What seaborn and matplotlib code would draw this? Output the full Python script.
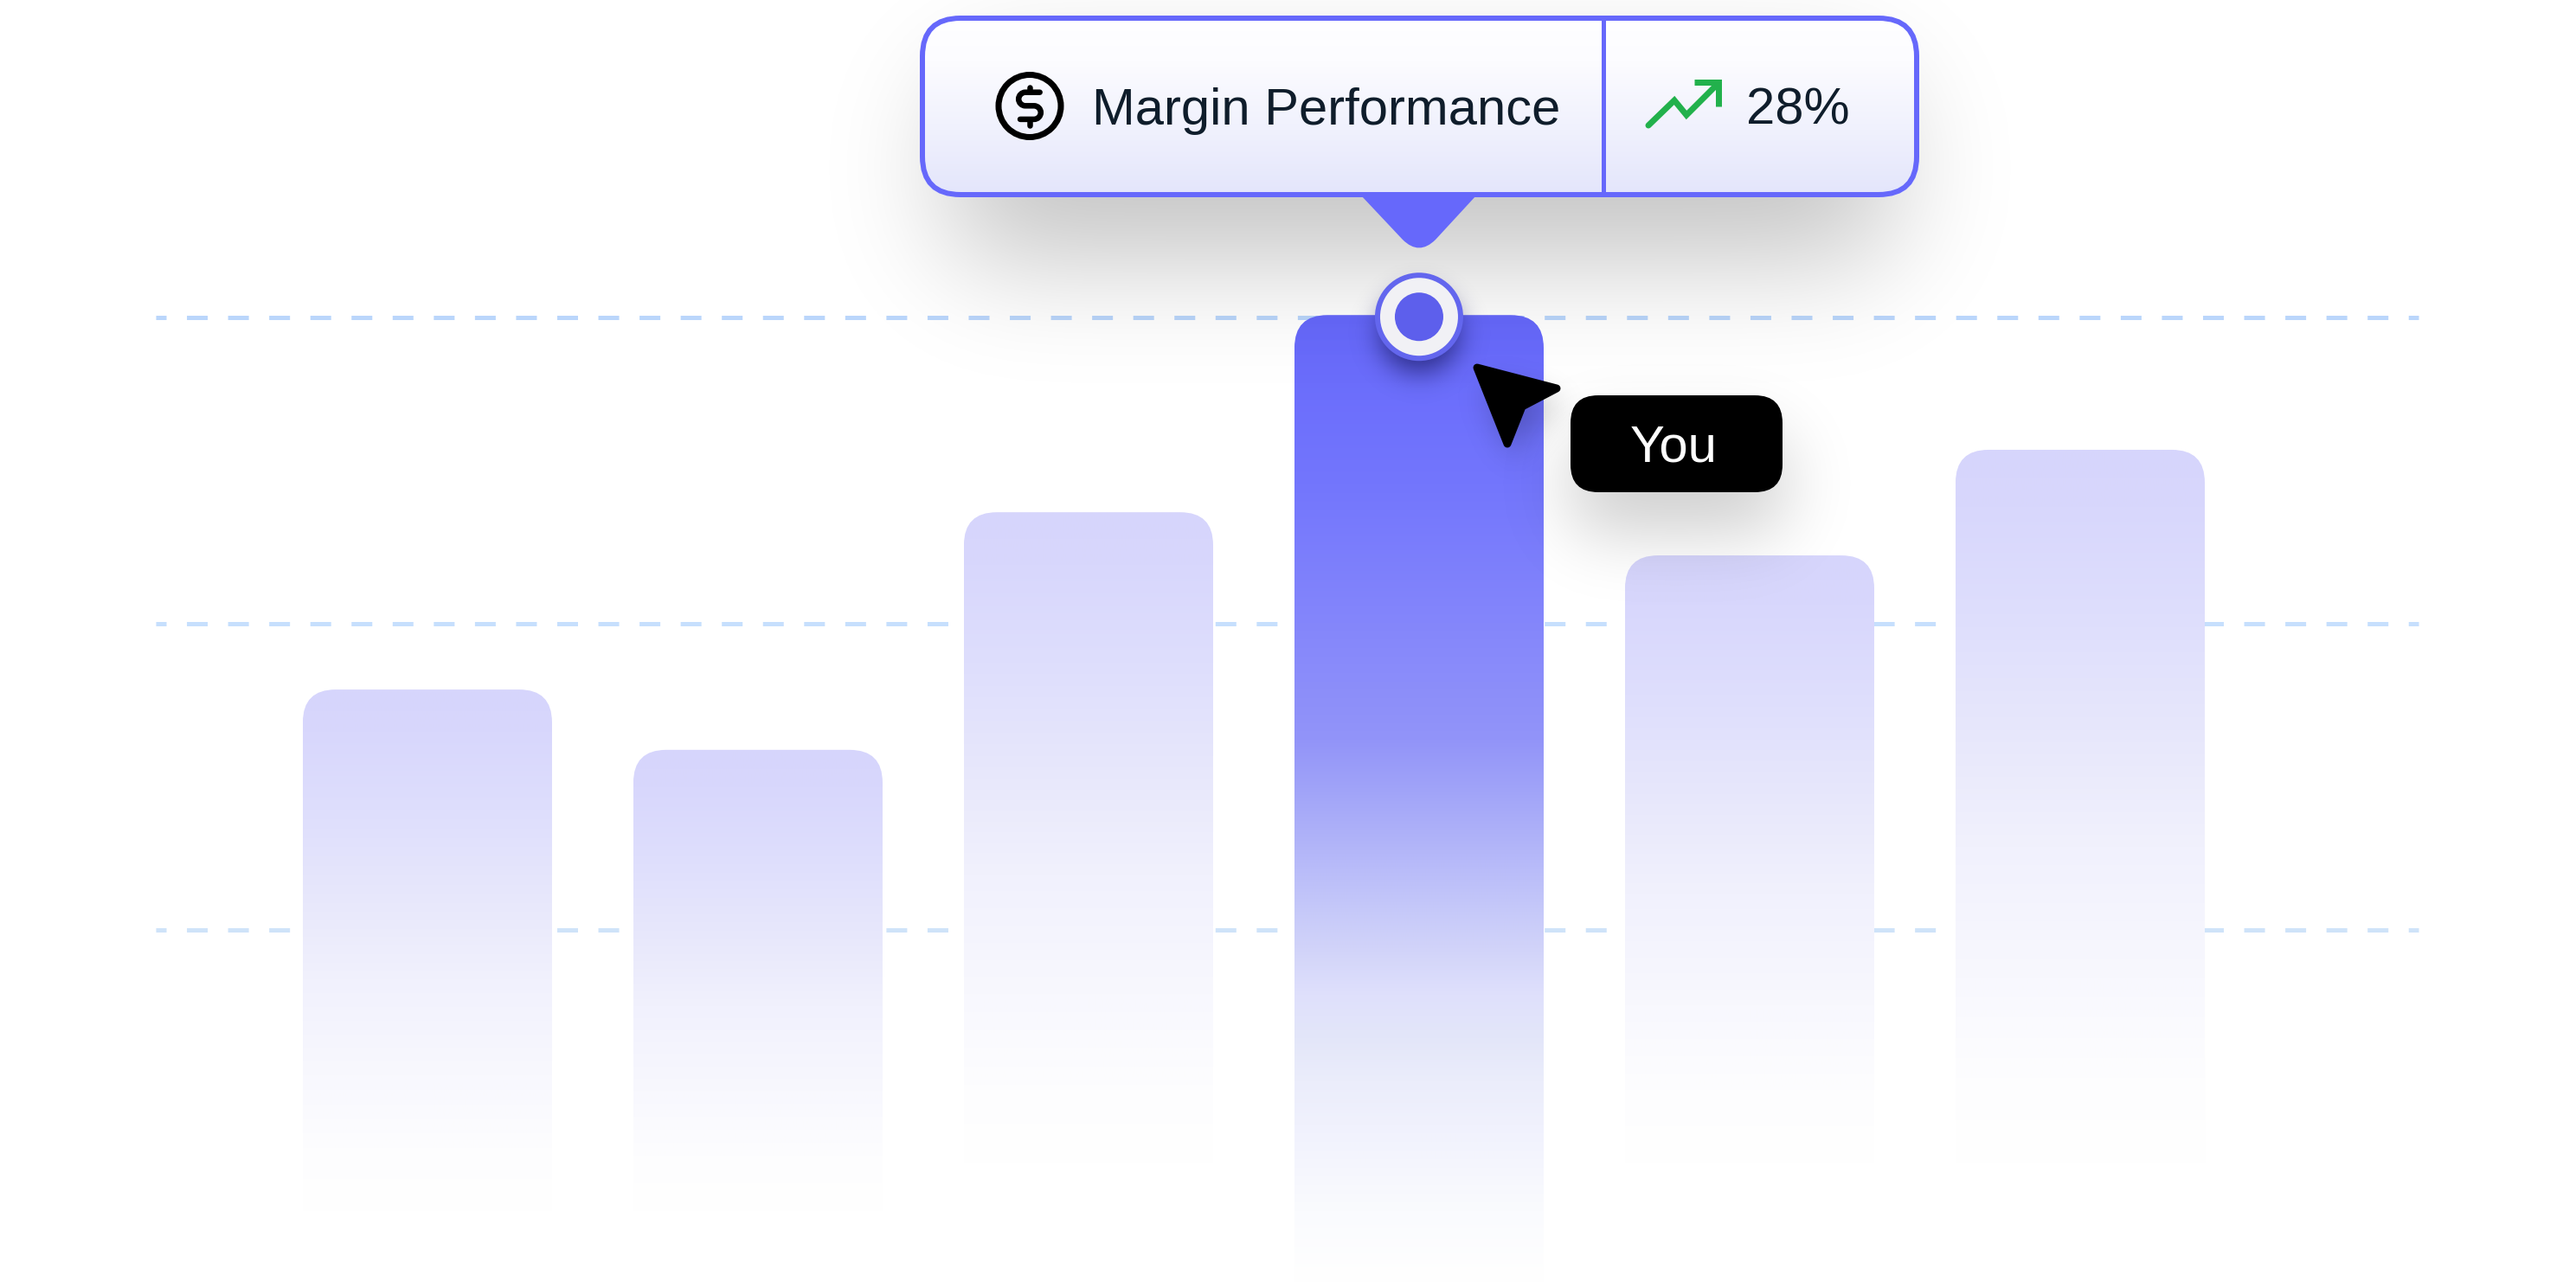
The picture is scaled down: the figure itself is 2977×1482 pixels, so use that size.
import numpy as np
import pandas as pd
import matplotlib
matplotlib.use("Agg")
import matplotlib.pyplot as plt
import seaborn as sns
from matplotlib.colors import to_rgb
from matplotlib.patches import Circle, FancyBboxPatch, PathPatch
from matplotlib.path import Path

# chart values
periods = ["P1", "P2", "P3", "P4", "P5", "P6"]
margin_values = [178.5, 158.8, 236.4, 300.8, 222.3, 256.8]
grid_levels = [100, 200, 300]
highlight = "P4"
tooltip_title = "Margin Performance"
tooltip_value = "28%"
cursor_label = "You"

W, H = 2977, 1482
PT = 0.72  # one pixel in points at dpi 100

sns.set_theme(style="white")
plt.rcParams["font.family"] = ["Liberation Sans", "DejaVu Sans"]
plt.rcParams["lines.scale_dashes"] = False

fig = plt.figure(figsize=(W / 100, H / 100), dpi=100, facecolor="white")
ax = fig.add_axes([0, 0, 1, 1])

df = pd.DataFrame({"period": periods, "margin": margin_values})
sns.barplot(data=df, x="period", y="margin", ax=ax, width=0.754, color="#d6d5fc", saturation=1)
ax.set_xlim(-1.293, 6.5)
ax.set_ylim(-15, 403.7)
ax.set_axis_off()

# dashed grid
grid_colors = ["#bad6fb", "#c6dffd", "#cfe3f9"]
x_start = ax.transData.inverted().transform((180, 0))[0]
x_end = ax.transData.inverted().transform((2795, 0))[0]
for level, col in zip(grid_levels[::-1], grid_colors):
    ax.plot([x_start, x_end], [level, level], color=col, lw=5 * PT, zorder=0.5,
            linestyle=(12 * PT, (24 * PT, 23.55 * PT)), dash_capstyle="butt")

# everything else is placed in pixels on a second axes
ov = fig.add_axes([0, 0, 1, 1], label="overlay")
ov.patch.set_alpha(0)
ov.set_axis_off()

yy, xx = np.mgrid[0:H, 0:W]


def blur(mask, sigma):
    pad = 400
    spec = np.fft.rfft2(mask, s=(H + pad, W + pad))
    fy = np.fft.fftfreq(H + pad)[:, None]
    fx = np.fft.rfftfreq(W + pad)[None, :]
    spec *= np.exp(-2 * np.pi ** 2 * sigma ** 2 * (fx ** 2 + fy ** 2))
    return np.fft.irfft2(spec, s=(H + pad, W + pad))[:H, :W]


def rounded_mask(x0, y0, x1, y1, r):
    qx = np.abs(xx - (x0 + x1) / 2) - (x1 - x0) / 2 + r
    qy = np.abs(yy - (y0 + y1) / 2) - (y1 - y0) / 2 + r
    d = np.hypot(np.maximum(qx, 0), np.maximum(qy, 0)) + np.minimum(np.maximum(qx, qy), 0) - r
    return (d < 0).astype(float)


def draw_shadow(mask, sigma, alpha, zorder, color=(0, 0, 0)):
    a = np.clip(blur(mask, sigma), 0, 1) * alpha
    rgba = np.zeros((H, W, 4))
    rgba[..., 0], rgba[..., 1], rgba[..., 2] = color
    rgba[..., 3] = a
    ov.imshow((rgba * 255).astype(np.uint8), extent=(0, W, H, 0), aspect="auto",
              interpolation="nearest", zorder=zorder)


def gradient_box(x0, y0, x1, y1, r, stops, zorder):
    # stops are (pixel y, colour)
    rows = np.arange(int(y0), int(y1) + 1)
    ys = [s[0] for s in stops]
    cols = np.array([to_rgb(s[1]) for s in stops])
    img = np.stack([np.interp(rows, ys, cols[:, i]) for i in range(3)], axis=1)[:, None, :]
    clip = FancyBboxPatch((x0, y0), x1 - x0, y1 - y0, boxstyle=f"round,pad=0,rounding_size={r}",
                          fc="none", ec="none", zorder=zorder)
    ov.add_patch(clip)
    im = ov.imshow(img, extent=(x0, x1, y1, y0), aspect="auto", interpolation="bilinear", zorder=zorder)
    im.set_clip_path(clip)


# bars: seaborn gives the geometry, the fill is a gradient fading into the page
fade_end = [1400, 1400, 1345, 1482, 1345, 1345]
soft_stops = [(0, "#d6d5fc"), (0.08, "#d8d7fc"), (0.23, "#dedefd"), (0.41, "#e8e8fb"),
              (0.556, "#f1f1fd"), (0.74, "#f8f8fe"), (0.88, "#fdfdfe"), (1, "#ffffff")]
hero_stops = [(363, "#6668fb"), (560, "#7376fd"), (720, "#8486fb"), (855, "#9294f9"), (911, "#a0a3f8"),
              (987, "#b4b7f9"), (1050, "#c5c8f9"), (1100, "#d2d4f9"), (1150, "#dfe0fc"), (1200, "#e3e6f9"),
              (1250, "#ebedfb"), (1300, "#f0f1fd"), (1350, "#f5f6fd"), (1400, "#fafbfe"), (1482, "#ffffff")]

hero_box = None
for name, bar, end in zip(periods, ax.patches, fade_end):
    bar.set_alpha(0)
    x0, y_top = ax.transData.transform((bar.get_x(), bar.get_height()))
    x1, _ = ax.transData.transform((bar.get_x() + bar.get_width(), 0))
    y_top = H - y_top
    if name == highlight:
        gradient_box(x0, y_top, x1, end + 60, 38, hero_stops, 2)
        hero_box = (x0, y_top, x1)
    else:
        stops = [(y_top + f * (end - y_top), c) for f, c in soft_stops]
        gradient_box(x0, y_top, x1, end + 60, 38, stops + [(end + 70, "#ffffff")], 2)

hx = (hero_box[0] + hero_box[2]) / 2
hy = hero_box[1] + 2

# shadows
tip_box = (1063, 18, 2218, 228)
you_box = (1815, 457, 2060, 569)
cursor_pts = [(1707, 425), (1799, 449), (1759, 470), (1742, 513)]

draw_shadow(rounded_mask(tip_box[0] + 35, tip_box[1] + 70, tip_box[2] - 35, tip_box[3] + 70, 36), 68, 0.24, 3)
draw_shadow(rounded_mask(you_box[0], you_box[1] + 45, you_box[2], you_box[3] + 45, 24), 40, 0.20, 3)

cur_mask = np.zeros((H, W))
sub_y, sub_x = np.mgrid[400:560, 1680:1830]
inside = Path(np.array(cursor_pts) + (8, 18)).contains_points(np.c_[sub_x.ravel(), sub_y.ravel()])
cur_mask[400:560, 1680:1830] = inside.reshape(sub_x.shape)
draw_shadow(cur_mask, 18, 0.28, 3)

dist = np.hypot(xx - hx, yy - (hy + 18))
draw_shadow((dist < 46).astype(float), 15, 0.7, 3, color=(0.08, 0.08, 0.35))

# tooltip
accent = "#6668fb"
lw_box = 6 * PT
gradient_box(tip_box[0], tip_box[1], tip_box[2], tip_box[3], 46,
             [(18, "#ffffff"), (70, "#fcfcff"), (150, "#f0f1fd"), (228, "#e3e5fb")], 5)
ov.add_patch(FancyBboxPatch((tip_box[0] + 3, tip_box[1] + 3), tip_box[2] - tip_box[0] - 6, tip_box[3] - tip_box[1] - 6,
                            boxstyle="round,pad=0,rounding_size=44", fc="none", ec=accent, lw=lw_box, zorder=6))
ov.plot([1852.5, 1852.5], [20, 226], color=accent, lw=5 * PT, solid_capstyle="butt", zorder=6)

pointer = Path([(1573, 226), (1621, 277), (hx, 296), (1659, 277), (1706, 226), (1573, 226)],
               [Path.MOVETO, Path.LINETO, Path.CURVE3, Path.CURVE3, Path.LINETO, Path.CLOSEPOLY])
ov.add_patch(PathPatch(pointer, fc=accent, ec="none", zorder=6))

# dollar icon
ink = "#000000"
ov.add_patch(Circle((1190, 122.5), 36, fc="none", ec=ink, lw=7 * PT, zorder=7))
s_curve = Path(
    [(1201.7, 106.7), (1185, 106.7),
     (1180.7, 106.7), (1177.2, 110.2), (1177.2, 114.5),
     (1177.2, 118.8), (1180.7, 122.3), (1185, 122.3),
     (1195, 122.3),
     (1199.3, 122.3), (1202.8, 125.8), (1202.8, 130.1),
     (1202.8, 134.4), (1199.3, 137.9), (1195, 137.9),
     (1179, 137.9)],
    [Path.MOVETO, Path.LINETO] + [Path.CURVE4] * 6 + [Path.LINETO] + [Path.CURVE4] * 6 + [Path.LINETO])
ov.add_patch(PathPatch(s_curve, fc="none", ec=ink, lw=6.5 * PT, capstyle="round", joinstyle="round", zorder=7))
ov.plot([1190, 1190], [101, 106], color=ink, lw=6.5 * PT, solid_capstyle="round", zorder=7)
ov.plot([1190, 1190], [139, 145], color=ink, lw=6.5 * PT, solid_capstyle="round", zorder=7)

# trend arrow
green = "#22b14c"
ov.plot([1905, 1935, 1949, 1985], [145, 116, 133, 97], color=green, lw=7 * PT,
        solid_capstyle="round", solid_joinstyle="miter", zorder=7)
ov.plot([1958, 1986, 1986], [95, 95, 123], color=green, lw=7 * PT,
        solid_capstyle="butt", solid_joinstyle="miter", zorder=7)

text_col = "#0f1d2b"
ov.text(1262, 144, tooltip_title, fontsize=43, color=text_col, va="baseline", ha="left", zorder=7)
ov.text(2018, 144, tooltip_value, fontsize=43, color=text_col, va="baseline", ha="left", zorder=7)

# point marker on the highlighted bar
ov.add_patch(Circle((hx, hy), 51, fc="#6366ee", ec="none", zorder=8))
ov.add_patch(Circle((hx, hy), 45, fc="#f1f1f5", ec="none", zorder=8))
ov.add_patch(Circle((hx, hy), 28, fc="#5d5fec", ec="none", zorder=8))

# cursor and label
ov.add_patch(plt.Polygon(cursor_pts, closed=True, fc="black", ec="black", lw=9 * PT, joinstyle="round", zorder=9))
ov.add_patch(FancyBboxPatch((you_box[0], you_box[1]), you_box[2] - you_box[0], you_box[3] - you_box[1],
                            boxstyle="round,pad=0,rounding_size=32", fc="black", ec="none", zorder=9))
ov.text(1934, 534, cursor_label, fontsize=43, color="white", va="baseline", ha="center", zorder=10)

ov.set_xlim(0, W)
ov.set_ylim(H, 0)

fig.savefig("out.png", dpi=100)
plt.close(fig)
